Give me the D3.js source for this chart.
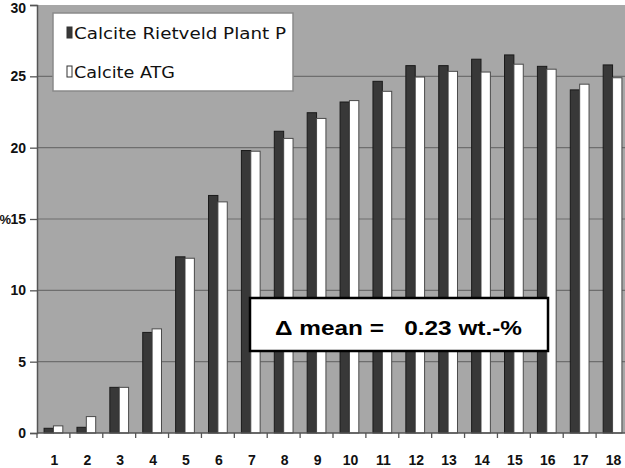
<!DOCTYPE html>
<html>
<head>
<meta charset="utf-8">
<script src="https://cdn.jsdelivr.net/npm/d3@7"></script>
<style>
  body { margin: 0; background: #fff; }
  svg { display: block; }
</style>
</head>
<body>
<div id="chart"></div>
<script>
const categories = ["1","2","3","4","5","6","7","8","9","10","11","12","13","14","15","16","17","18"];
const rietveld = [0.33, 0.4, 3.2, 7.05, 12.35, 16.65, 19.8, 21.15, 22.45, 23.2, 24.65, 25.75, 25.75, 26.2, 26.5, 25.7, 24.05, 25.8];
const atg = [0.5, 1.15, 3.2, 7.3, 12.25, 16.2, 19.75, 20.65, 22.05, 23.3, 23.95, 24.95, 25.35, 25.3, 25.85, 25.5, 24.45, 24.9];
const yTicks = [0, 5, 10, 15, 20, 25, 30];
const seriesNames = ["Calcite Rietveld Plant P", "Calcite ATG"];
const annotation = "\u0394 mean =   0.23 wt.-%";

const width = 625, height = 468;
const plotLeft = 37, plotRight = 629, plotTop = 5, plotBottom = 433;

const svg = d3.select("#chart").append("svg")
  .attr("width", width)
  .attr("height", height);

const x = d3.scaleBand().domain(categories).range([plotLeft, plotRight]);
const y = d3.scaleLinear().domain([0, 30]).range([plotBottom, plotTop]);

// plot area
svg.append("rect")
  .attr("x", plotLeft).attr("y", plotTop)
  .attr("width", plotRight - plotLeft).attr("height", plotBottom - plotTop)
  .attr("fill", "#a7a7a7");

// gridlines
svg.append("g")
  .selectAll("line")
  .data(yTicks.filter(d => d > 0 && d < 30))
  .join("line")
  .attr("x1", plotLeft).attr("x2", plotRight)
  .attr("y1", d => y(d)).attr("y2", d => y(d))
  .attr("stroke", "#6e6e6e")
  .attr("stroke-width", 1.2);

const barW = x.bandwidth() * 0.285;

const groups = svg.append("g")
  .selectAll("g")
  .data(categories)
  .join("g")
  .attr("transform", d => `translate(${x(d) + x.bandwidth() / 2},0)`);

groups.append("rect")
  .attr("x", -barW)
  .attr("y", (d, i) => y(rietveld[i]))
  .attr("width", barW)
  .attr("height", (d, i) => plotBottom - y(rietveld[i]))
  .attr("fill", "#383838")
  .attr("stroke", "#1a1a1a")
  .attr("stroke-width", 1);

groups.append("rect")
  .attr("x", 0)
  .attr("y", (d, i) => y(atg[i]))
  .attr("width", barW)
  .attr("height", (d, i) => plotBottom - y(atg[i]))
  .attr("fill", "#fff")
  .attr("stroke", "#4a4a4a")
  .attr("stroke-width", 1);

// y axis
const yAxis = svg.append("g")
  .attr("transform", `translate(${plotLeft},0)`)
  .call(d3.axisLeft(y).tickValues(yTicks).tickSize(7).tickPadding(4));
yAxis.select(".domain").attr("stroke", "#555").attr("stroke-width", 1.5);
yAxis.selectAll(".tick line").attr("stroke", "#555").attr("stroke-width", 1.3);
yAxis.selectAll(".tick text")
  .attr("fill", "#111")
  .attr("dy", (d) => d === 30 ? "0.55em" : "0.32em")
  .style("font", "bold 14px 'Liberation Sans', Arial, sans-serif");

svg.append("text")
  .attr("x", 11).attr("y", y(15))
  .attr("dy", "0.36em")
  .attr("text-anchor", "end")
  .attr("fill", "#111")
  .style("font", "bold 13px 'Liberation Sans', Arial, sans-serif")
  .text("%");

// x axis
const xg = svg.append("g").attr("transform", `translate(0,${plotBottom})`);
xg.append("line")
  .attr("x1", plotLeft).attr("x2", plotRight)
  .attr("stroke", "#555").attr("stroke-width", 1.5);
xg.selectAll(".tk")
  .data(categories)
  .join("line")
  .attr("class", "tk")
  .attr("x1", d => x(d)).attr("x2", d => x(d))
  .attr("y1", 0).attr("y2", 5)
  .attr("stroke", "#555").attr("stroke-width", 1.3);
xg.selectAll("text")
  .data(categories)
  .join("text")
  .attr("x", d => x(d) + x.bandwidth() / 2 + 1)
  .attr("y", 32)
  .attr("text-anchor", "middle")
  .attr("fill", "#111")
  .style("font", "bold 14px 'Liberation Sans', Arial, sans-serif")
  .text(d => d);

// legend
const legend = svg.append("g");
legend.append("rect")
  .attr("x", 53).attr("y", 13)
  .attr("width", 240).attr("height", 78)
  .attr("fill", "#fff")
  .attr("stroke", "#8a8a8a")
  .attr("stroke-width", 1.5);
const legendFills = ["#383838", "#fff"];
const legendWidths = [212, 101];
seriesNames.forEach((name, i) => {
  const cy = 33 + i * 39;
  legend.append("rect")
    .attr("x", 67).attr("y", cy - 6)
    .attr("width", 5).attr("height", 11)
    .attr("fill", legendFills[i])
    .attr("stroke", "#333")
    .attr("stroke-width", 1);
  legend.append("text")
    .attr("x", 74).attr("y", cy)
    .attr("dy", "0.35em")
    .attr("fill", "#111")
    .attr("textLength", legendWidths[i])
    .attr("lengthAdjust", "spacingAndGlyphs")
    .style("font", "16px 'DejaVu Sans', sans-serif")
    .text(name);
});

// annotation box
svg.append("rect")
  .attr("x", 250).attr("y", 298)
  .attr("width", 298).attr("height", 53)
  .attr("fill", "#fff")
  .attr("stroke", "#000")
  .attr("stroke-width", 2.5);
svg.append("text")
  .attr("x", 275).attr("y", 328)
  .attr("dy", "0.35em")
  .attr("fill", "#000")
  .attr("xml:space", "preserve")
  .attr("textLength", 247)
  .attr("lengthAdjust", "spacingAndGlyphs")
  .style("white-space", "pre")
  .style("font", "bold 20px 'Liberation Sans', Arial, sans-serif")
  .text(annotation);
</script>
</body>
</html>
